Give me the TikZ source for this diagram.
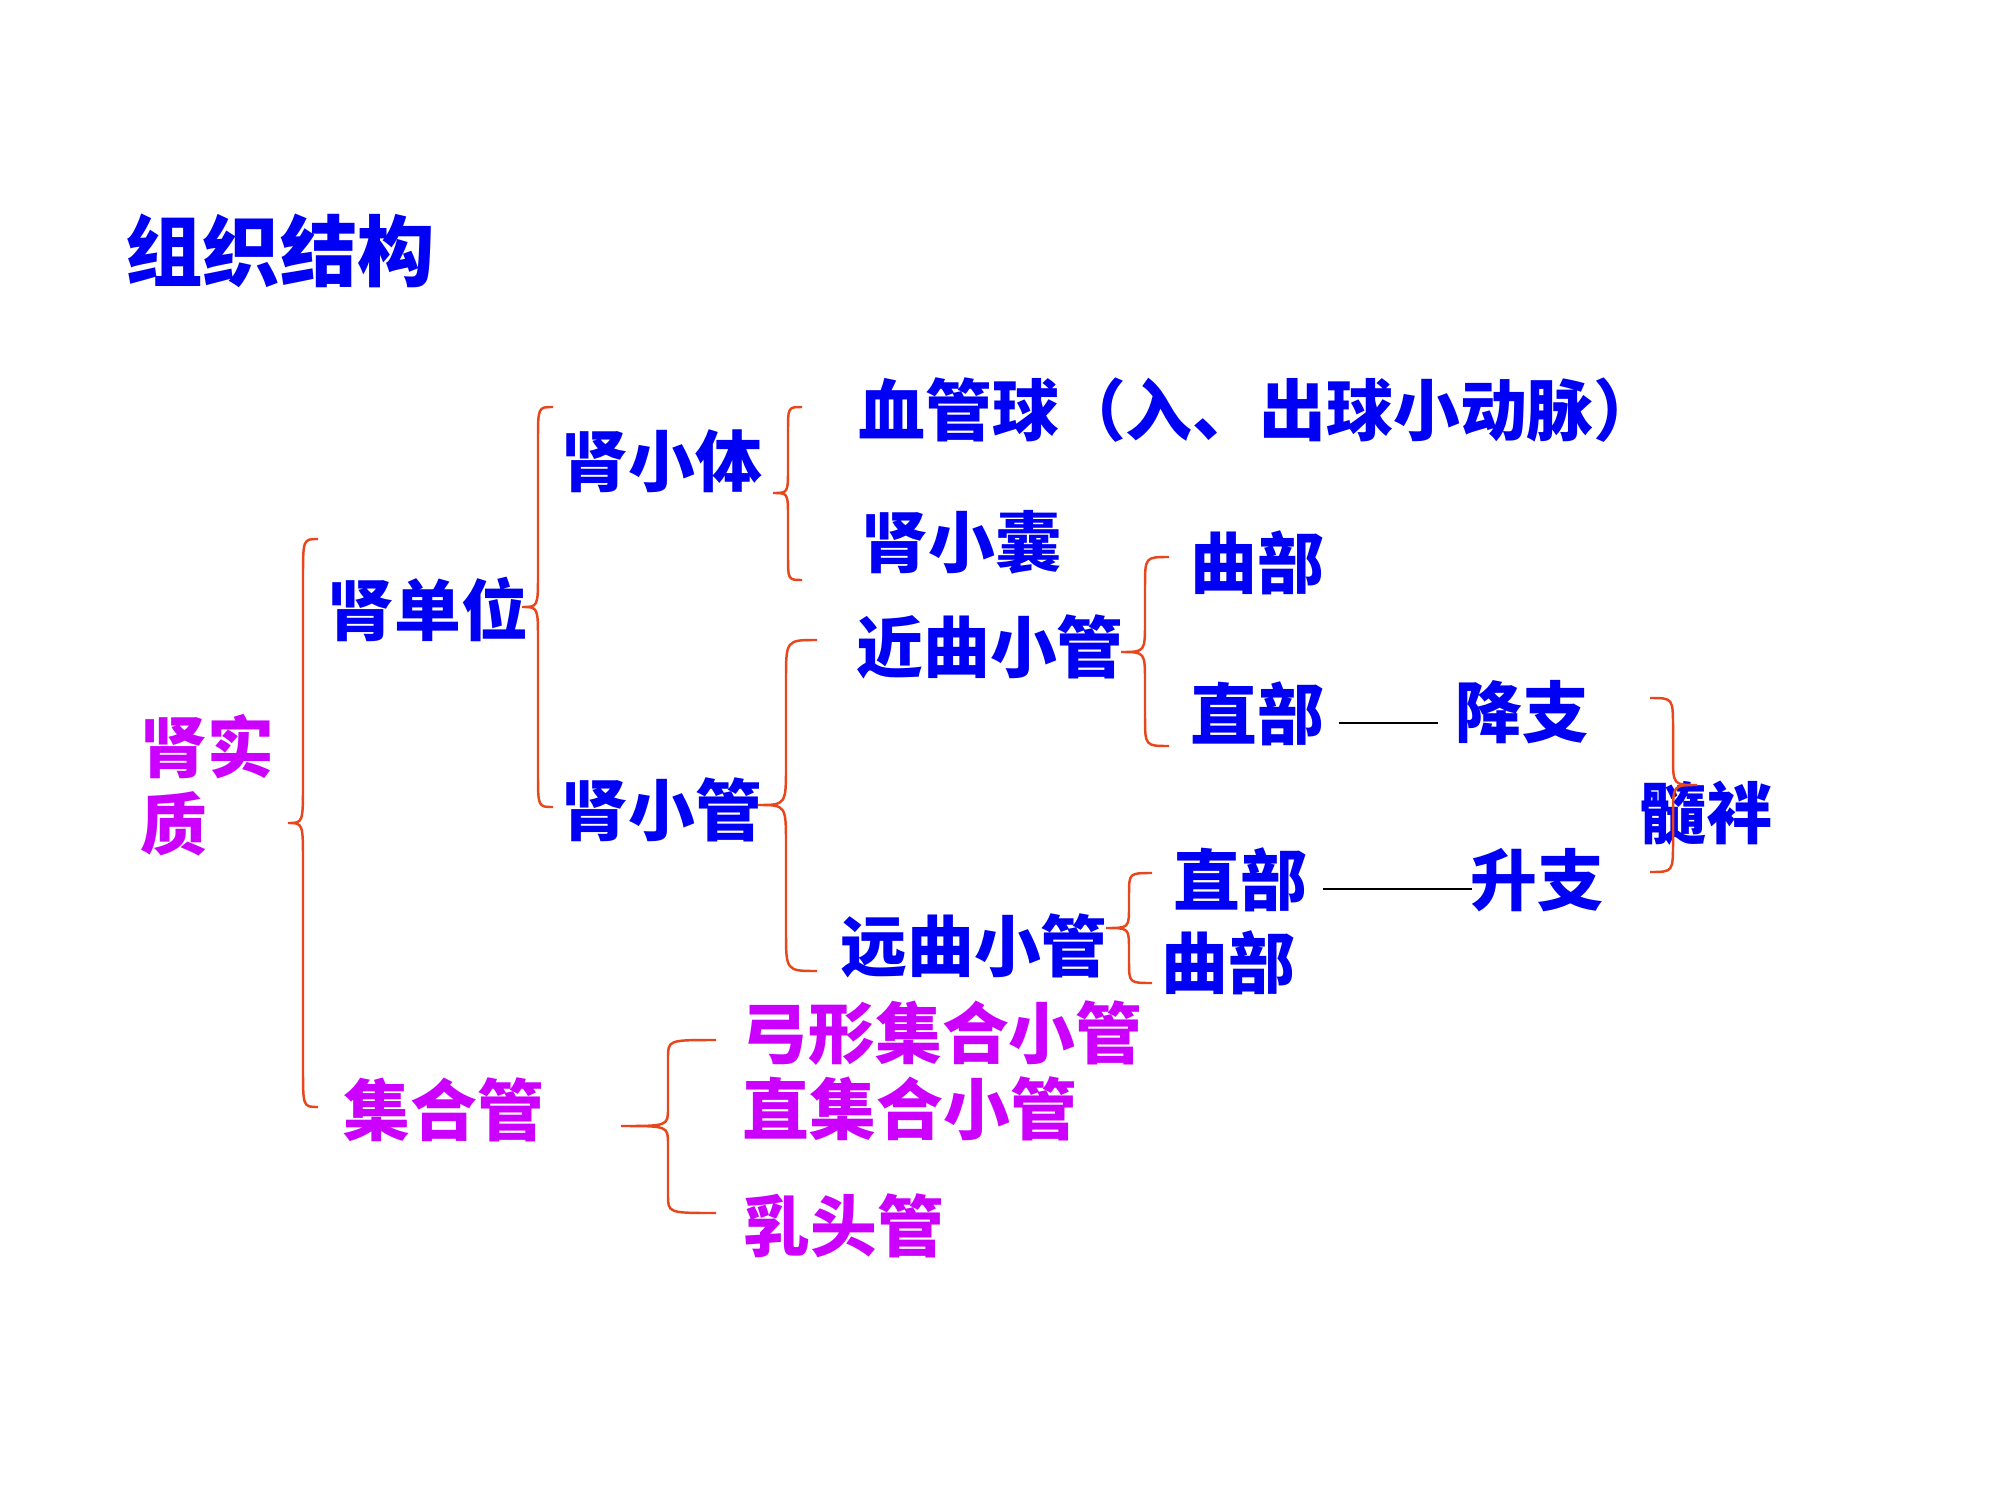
\documentclass[tikz,border=0pt]{standalone}
\usepackage{fontspec}
\setmainfont{Noto Sans CJK SC}
\usetikzlibrary{calc}
\definecolor{tblue}{RGB}{0,0,245}
\definecolor{tmag}{RGB}{204,0,255}
\definecolor{brc}{RGB}{232,70,28}
% e v t y1 ty y2 r
\newcommand{\mybrace}[7]{%
  \draw[bracestyle] (#1,#4) .. controls (#2,#4) .. (#2,#4+#7) -- (#2,#5-#7)
    .. controls (#2,#5) .. (#3,#5) .. controls (#2,#5) .. (#2,#5+#7)
    -- (#2,#6-#7) .. controls (#2,#6) .. (#1,#6);}
\tikzset{
  bracestyle/.style={draw=brc, line width=0.7pt},
  txt/.style={inner sep=0pt, font=\bfseries\fontsize{19pt}{22pt}\selectfont},
  bl/.style={txt, text=tblue},
  mg/.style={txt, text=tmag},
  link/.style={draw=black, line width=0.7pt},
}
\begin{document}
\begin{tikzpicture}[x=0.01cm, y=-0.01cm]
\fill[white] (0,0) rectangle (2000,1500);
\useasboundingbox (0,0) rectangle (2000,1500);

\node[bl, font=\bfseries\fontsize{22pt}{26pt}\selectfont] (title) at (280,251) {组织结构};

\node[mg, align=left, anchor=west] (szz) at (140,785) {肾实\\质};
\node[bl] (sdw) at (428,609) {肾单位};
\node[mg] (jhg) at (444,1110) {集合管};

\node[bl] (sxt) at (662,461) {肾小体};
\node[bl] (sxg) at (662,810) {肾小管};

\node[bl, anchor=west] (xgq) at (858,410) {血管球（入、出球小动脉）};
\node[bl] (sxn) at (962,542) {肾小囊};

\node[bl] (jqxg) at (990,647) {近曲小管};
\node[bl] (qb1) at (1257,563) {曲部};
\node[bl] (zb1) at (1257,714) {直部};
\node[bl] (jz) at (1522,712) {降支};

\node[bl] (yqxg) at (974,946) {远曲小管};
\node[bl] (zb2) at (1240,880) {直部};
\node[bl] (qb2) at (1228,963) {曲部};
\node[bl] (sz) at (1537,880) {升支};

\node[bl] (sp) at (1706,813) {髓袢};

\node[mg] (gx) at (942,1033) {弓形集合小管};
\node[mg] (zj) at (910,1109) {直集合小管};
\node[mg] (rtg) at (844,1226) {乳头管};

% braces
\mybrace{318}{303}{288}{539}{823}{1107}{40}
\mybrace{553}{538}{522}{407}{607}{807}{34}
\mybrace{802}{788}{773}{407}{493}{580}{25}
\mybrace{817}{786}{758}{640}{805}{971}{40}
\mybrace{1169}{1145}{1121}{557}{652}{746}{30}
\mybrace{1152}{1129}{1106}{873}{928}{983}{22}
\mybrace{716}{668}{621}{1040}{1126}{1213}{18}
\mybrace{1650}{1673}{1697}{698}{785}{872}{30}

% connecting lines
\coordinate (l1a) at ($(zb1.east)+(14,9)$);
\coordinate (l1b) at ($(jz.west)+(-17,0)$);
\draw[link] (l1a) -- (l1a -| l1b);
\coordinate (l2a) at ($(zb2.east)+(15,9)$);
\coordinate (l2b) at ($(sz.west)+(2,0)$);
\draw[link] (l2a) -- (l2a -| l2b);
\end{tikzpicture}
\end{document}
